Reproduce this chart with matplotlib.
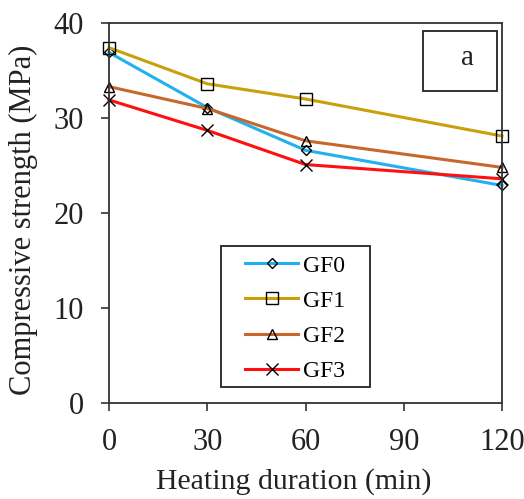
import matplotlib
matplotlib.use("Agg")
import matplotlib.pyplot as plt
from matplotlib.patches import Rectangle

x = [0, 30, 60, 120]
gf0 = [36.9, 31.1, 26.6, 22.9]
gf1 = [37.4, 33.6, 32.0, 28.1]
gf2 = [33.3, 31.0, 27.6, 24.8]
gf3 = [31.9, 28.7, 25.1, 23.6]
labels = ["GF0", "GF1", "GF2", "GF3"]
colors = ["#1FB2EE", "#C9A00C", "#C8672B", "#FF1010"]
markers = ["D", "s", "^", "x"]
msizes = [5.5, 8.5, 7.5, 9]
xticks = [0, 30, 60, 90, 120]
yticks = [0, 10, 20, 30, 40]

plt.rcParams['font.family'] = ['Liberation Serif', 'DejaVu Serif']
W, H = 524, 499
fig = plt.figure(figsize=(W/100, H/100), dpi=100)
x0, x1, yb, yt = 109, 502, 403, 23
ax = fig.add_axes([x0/W, 1 - yb/H, (x1-x0)/W, (yb-yt)/H])

def ax_x(px):
    return (px - x0) / (x1 - x0)

def ax_y(py):
    return (yb - py) / (yb - yt)

for y, lab, c, m, ms in zip([gf0, gf1, gf2, gf3], labels, colors, markers, msizes):
    ax.plot(x, y, color=c, lw=2.2, marker=m, ms=ms, mfc='none', mec='black',
            mew=1.0, label=lab, clip_on=False)

ax.set_xlim(0, 120)
ax.set_ylim(0, 40)
ax.set_xticks(xticks)
ax.set_yticks(yticks)
ax.tick_params(direction='out', length=6, width=1.1, labelsize=22, colors='#222222', pad=12)
for s in ax.spines.values():
    s.set_linewidth(1.3)
    s.set_color('#333333')
ax.set_xlabel("Heating duration (min)", fontsize=21.5, color='#222222')
ax.set_ylabel("Compressive strength (MPa)", fontsize=22, color='#222222')
ax.xaxis.set_label_coords(ax_x(294), ax_y(482))
ax.xaxis.label.set_va('center')
ax.yaxis.set_label_coords(ax_x(23), ax_y(220))
ax.yaxis.label.set_va('center')
ax.yaxis.label.set_ha('center')

# legend (entries without frame) plus a hand-placed frame
leg = ax.legend(loc='upper left', bbox_to_anchor=(ax_x(245), ax_y(255)),
                borderaxespad=0, fontsize=17, frameon=False,
                handlelength=53 / (17 * 100 / 72), labelspacing=0.58, borderpad=0,
                handletextpad=0.2)
ax.add_patch(Rectangle((ax_x(221), ax_y(387)), ax_x(370) - ax_x(221), ax_y(246) - ax_y(387),
                       transform=ax.transAxes, fill=True, fc='white', ec='#222222',
                       lw=1.3, zorder=4))
leg.set_zorder(5)

ax.text(ax_x(467), ax_y(58), "a", transform=ax.transAxes,
        fontsize=21, ha='center', va='center', color='#222222')
ax.add_patch(Rectangle((ax_x(423), ax_y(91)), ax_x(497) - ax_x(423), ax_y(31) - ax_y(91),
                       transform=ax.transAxes, fill=False, ec='#222222', lw=1.3))

fig.savefig("out.png", dpi=100)
